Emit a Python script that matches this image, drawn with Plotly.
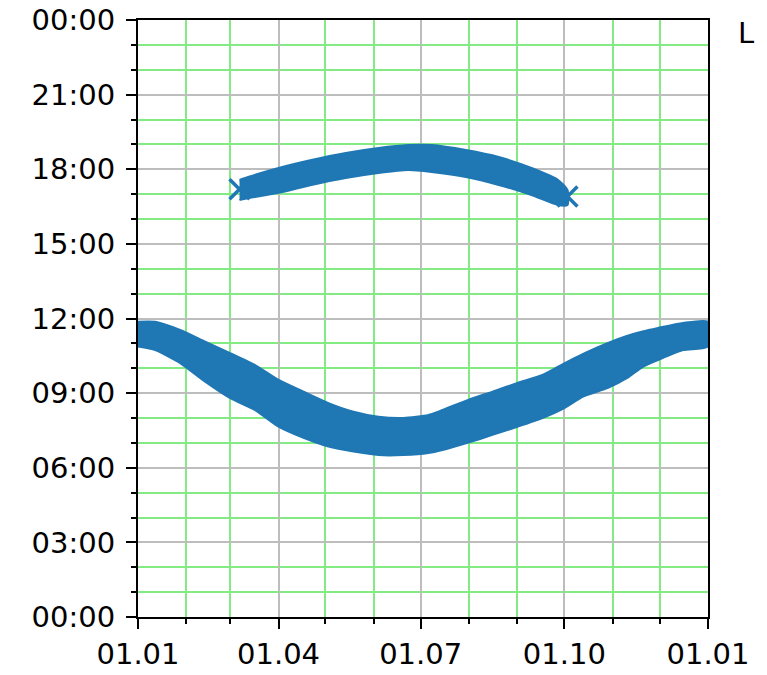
import plotly.graph_objects as go

# Lower band (morning): dates with upper and lower edge of the band (hours)
low_dates = ["2021-01-01", "2021-01-12", "2021-01-28", "2021-02-13", "2021-03-01",
             "2021-03-17", "2021-04-01", "2021-04-17", "2021-05-03", "2021-05-19",
             "2021-06-04", "2021-06-20", "2021-07-06", "2021-07-15", "2021-07-31",
             "2021-08-16", "2021-09-01", "2021-09-17", "2021-10-01", "2021-10-13",
             "2021-10-29", "2021-11-10", "2021-11-20", "2021-11-30", "2021-12-16",
             "2022-01-01"]
low_top = [11.87, 11.87, 11.54, 11.07, 10.61, 10.13, 9.53, 9.06, 8.60, 8.25,
           8.05, 8.00, 8.12, 8.32, 8.72, 9.06, 9.41, 9.73, 10.20, 10.58,
           11.02, 11.30, 11.48, 11.62, 11.82, 11.87]
low_bot = [10.87, 10.73, 10.21, 9.46, 8.80, 8.32, 7.65, 7.20, 6.85, 6.65,
           6.51, 6.51, 6.59, 6.71, 7.00, 7.32, 7.65, 8.00, 8.40, 8.86,
           9.21, 9.60, 10.05, 10.33, 10.73, 10.87]

# Upper band (evening)
up_dates = ["2021-03-07", "2021-03-13", "2021-04-01", "2021-04-22", "2021-05-14",
            "2021-06-04", "2021-06-23", "2021-07-08", "2021-07-30", "2021-08-20",
            "2021-09-10", "2021-09-27", "2021-10-03"]
up_top = [17.57, 17.70, 18.05, 18.37, 18.65, 18.85, 18.97, 18.97, 18.77, 18.49,
          18.05, 17.57, 17.17]
up_bot = [16.76, 16.84, 17.05, 17.37, 17.65, 17.85, 17.97, 17.89, 17.69, 17.37,
          16.96, 16.56, 16.56]

# End markers of the evening band
end_dates = ["2021-03-07", "2021-10-03"]
end_hours = [17.2, 16.9]

x_tickvals = ["2021-01-01", "2021-04-01", "2021-07-01", "2021-10-01", "2022-01-01"]
x_ticktext = ["01.01", "01.04", "01.07", "01.10", "01.01"]
y_tickvals = [0, 3, 6, 9, 12, 15, 18, 21, 24]
y_ticktext = ["00:00", "03:00", "06:00", "09:00", "12:00", "15:00", "18:00", "21:00", "00:00"]

BLUE = "#1f77b4"
fig = go.Figure()
for d, t, b in [(low_dates, low_top, low_bot), (up_dates, up_top, up_bot)]:
    fig.add_trace(go.Scatter(
        x=list(d) + list(d)[::-1], y=list(t) + list(b)[::-1],
        fill="toself", fillcolor=BLUE, mode="lines",
        line=dict(color=BLUE, width=2, shape="spline", smoothing=0.6),
        hoverinfo="skip", showlegend=False))
fig.add_trace(go.Scatter(x=end_dates, y=end_hours, mode="markers",
                         marker=dict(symbol="x-thin", size=20, color=BLUE,
                                     line=dict(width=3.5, color=BLUE)),
                         showlegend=False))

grid_major = "#bdbdbd"
grid_minor = "#84ea84"
fig.update_xaxes(
    type="date", range=["2021-01-01", "2022-01-01"], automargin=False,
    tickmode="array", tickvals=x_tickvals, ticktext=x_ticktext,
    ticks="outside", ticklen=10, tickwidth=2, tickcolor="black",
    showgrid=True, gridcolor=grid_major, gridwidth=2,
    showline=True, linecolor="black", linewidth=2, mirror=True,
    zeroline=False,
    minor=dict(dtick="M1", tick0="2021-01-01", ticks="outside", ticklen=5,
               tickwidth=1.5, tickcolor="black", showgrid=True,
               gridcolor=grid_minor, gridwidth=2),
)
fig.update_yaxes(
    range=[0, 24], tickmode="array", tickvals=y_tickvals, ticktext=y_ticktext,
    automargin=False,
    ticks="outside", ticklen=10, tickwidth=2, tickcolor="black",
    showgrid=True, gridcolor=grid_major, gridwidth=2,
    showline=True, linecolor="black", linewidth=2, mirror=True,
    zeroline=False, ticklabelstandoff=5,
    minor=dict(dtick=1, tick0=0, ticks="outside", ticklen=5,
               tickwidth=1.5, tickcolor="black", showgrid=True,
               gridcolor=grid_minor, gridwidth=2),
)
fig.add_annotation(text="L", xref="paper", yref="paper", x=(736 - 138) / 570,
                   y=(617 - 14) / 597, xanchor="left", yanchor="top",
                   showarrow=False, font=dict(size=29, color="black"))
fig.update_layout(
    width=767, height=675,
    margin=dict(l=138, r=59, t=20, b=58),
    paper_bgcolor="white", plot_bgcolor="white",
    font=dict(family="DejaVu Sans", size=29, color="black"),
)
fig.write_html("out.html")
